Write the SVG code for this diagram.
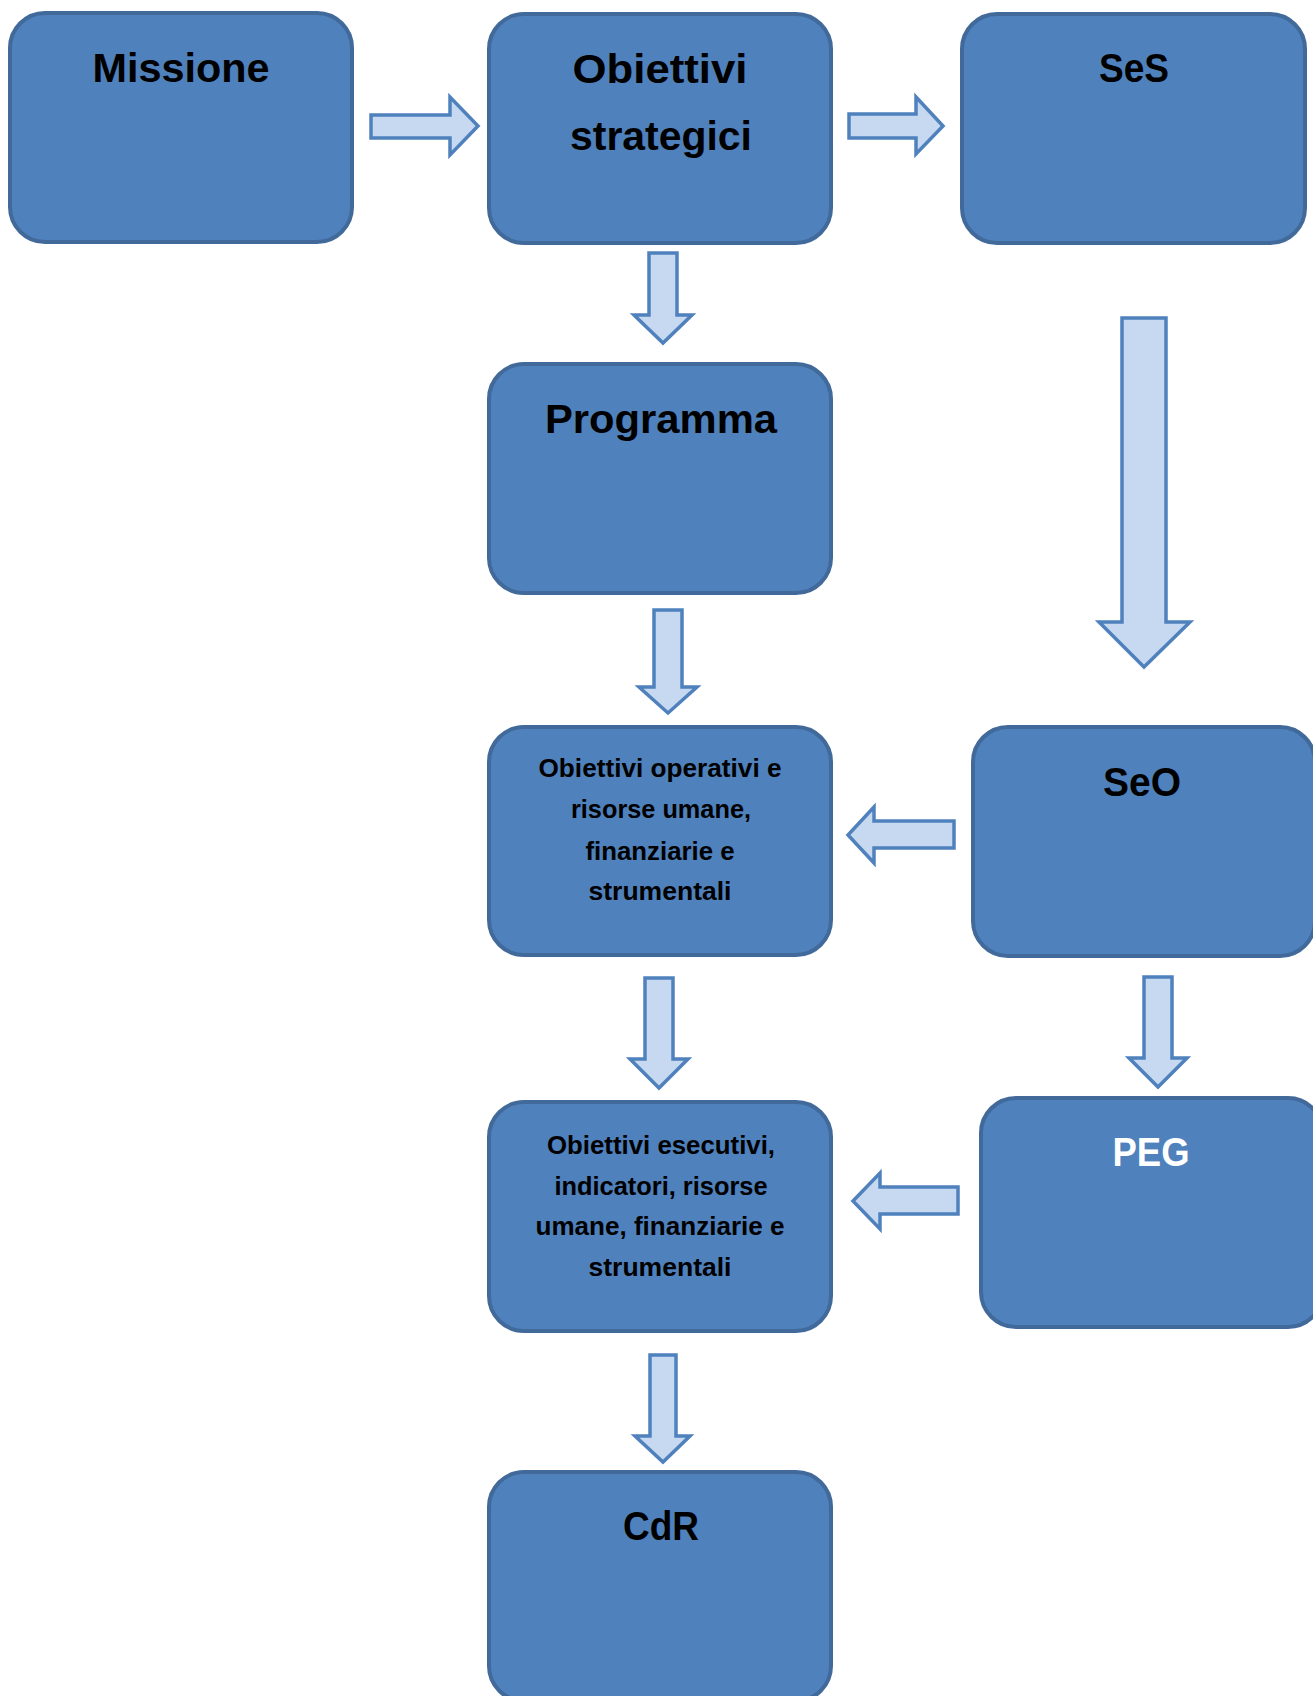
<svg xmlns="http://www.w3.org/2000/svg" width="1313" height="1696" viewBox="0 0 1313 1696">
<style>
.box{fill:#4F81BD;stroke:#41699A;stroke-width:4}
.arr{fill:#C6D9F1;stroke:#4F81BD;stroke-width:3.5;stroke-linejoin:miter}
.t{font-family:"Liberation Sans",Arial,sans-serif;font-weight:bold;fill:#000;text-anchor:middle}
.big{font-size:41px}
.small{font-size:26px}
.white{fill:#fff}
</style>
<rect width="1313" height="1696" fill="#fff"/>
<g id="connectors">
<polygon class="arr" points="371,115 450,115 450,97 478,126 450,155 450,138 371,138"/>
<polygon class="arr" points="849,114 916,114 916,97 943,126 916,154 916,138 849,138"/>
<polygon class="arr" points="649,253 677,253 677,315 692,315 663,343 634,315 649,315"/>
<polygon class="arr" points="1122,318 1166,318 1166,622 1190,622 1144,667 1099,622 1122,622"/>
<polygon class="arr" points="654,610 682,610 682,687 697,687 668,713 639,687 654,687"/>
<polygon class="arr" points="954,821 954,848 874,848 874,863 848,835 874,807 874,821"/>
<polygon class="arr" points="645,978 673,978 673,1059 688,1059 659,1088 630,1059 645,1059"/>
<polygon class="arr" points="1144,977 1172,977 1172,1058 1187,1058 1158,1087 1129,1058 1144,1058"/>
<polygon class="arr" points="958,1187 958,1214 880,1214 880,1229 853,1201 880,1173 880,1187"/>
<polygon class="arr" points="650,1355 676,1355 676,1436 690,1436 663,1462 635,1436 650,1436"/>
</g>
<g id="missione">
<rect class="box" x="10" y="13" width="342" height="229" rx="35"/>
<text class="t big" x="181" y="82" textLength="177" lengthAdjust="spacingAndGlyphs">Missione</text>
</g>
<g id="obiettivi-strategici">
<rect class="box" x="489" y="14" width="342" height="229" rx="35"/>
<text class="t big" x="660" y="83" textLength="175" lengthAdjust="spacingAndGlyphs">Obiettivi</text>
<text class="t big" x="661" y="150" textLength="182" lengthAdjust="spacingAndGlyphs">strategici</text>
</g>
<g id="ses">
<rect class="box" x="962" y="14" width="343" height="229" rx="35"/>
<text class="t big" x="1134" y="82" textLength="70" lengthAdjust="spacingAndGlyphs">SeS</text>
</g>
<g id="programma">
<rect class="box" x="489" y="364" width="342" height="229" rx="35"/>
<text class="t big" x="661" y="433" textLength="232" lengthAdjust="spacingAndGlyphs">Programma</text>
</g>
<g id="obiettivi-operativi">
<rect class="box" x="489" y="727" width="342" height="228" rx="35"/>
<text class="t small" x="660" y="777" textLength="243" lengthAdjust="spacingAndGlyphs">Obiettivi operativi e</text>
<text class="t small" x="661" y="818" textLength="180" lengthAdjust="spacingAndGlyphs">risorse umane,</text>
<text class="t small" x="660" y="860" textLength="149" lengthAdjust="spacingAndGlyphs">finanziarie e</text>
<text class="t small" x="660" y="900" textLength="143" lengthAdjust="spacingAndGlyphs">strumentali</text>
</g>
<g id="seo">
<rect class="box" x="973" y="727" width="342" height="229" rx="35"/>
<text class="t big" x="1142" y="796" textLength="78" lengthAdjust="spacingAndGlyphs">SeO</text>
</g>
<g id="obiettivi-esecutivi">
<rect class="box" x="489" y="1102" width="342" height="229" rx="35"/>
<text class="t small" x="661" y="1154" textLength="228" lengthAdjust="spacingAndGlyphs">Obiettivi esecutivi,</text>
<text class="t small" x="661" y="1195" textLength="213" lengthAdjust="spacingAndGlyphs">indicatori, risorse</text>
<text class="t small" x="660" y="1235" textLength="249" lengthAdjust="spacingAndGlyphs">umane, finanziarie e</text>
<text class="t small" x="660" y="1276" textLength="143" lengthAdjust="spacingAndGlyphs">strumentali</text>
</g>
<g id="peg">
<rect class="box" x="981" y="1098" width="342" height="229" rx="35"/>
<text class="t big white" x="1151" y="1166" textLength="77" lengthAdjust="spacingAndGlyphs">PEG</text>
</g>
<g id="cdr">
<rect class="box" x="489" y="1472" width="342" height="229" rx="35"/>
<text class="t big" x="661" y="1540" textLength="76" lengthAdjust="spacingAndGlyphs">CdR</text>
</g>
</svg>
